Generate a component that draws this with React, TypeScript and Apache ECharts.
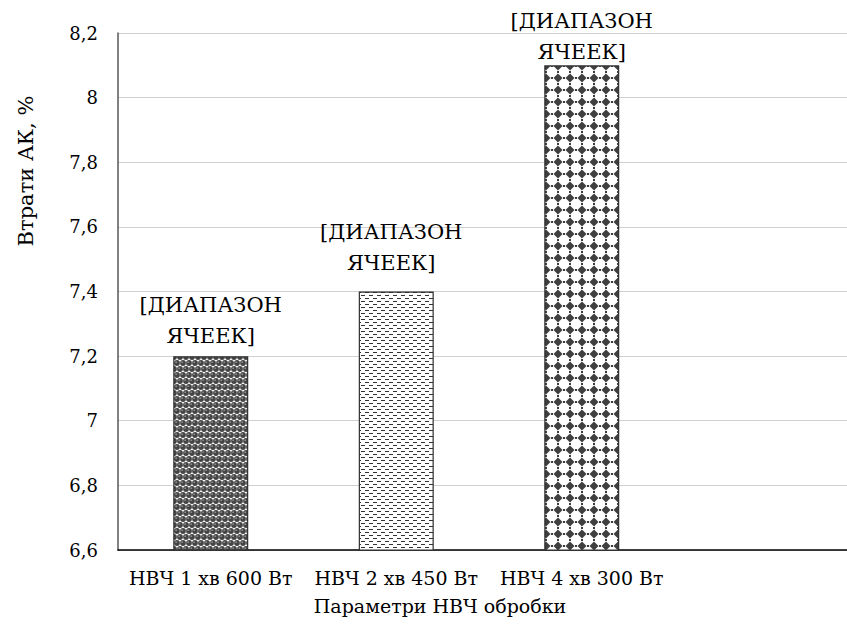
import React, { useEffect, useRef } from "react";
import * as echarts from "echarts";

const categories = ["НВЧ 1 хв 600 Вт", "НВЧ 2 хв 450 Вт", "НВЧ 4 хв 300 Вт"];
const values = [7.2, 7.4, 8.1];
const positions = [0.5, 1.5, 2.5];
const barLabel = "[ДИАПАЗОН\nЯЧЕЕК]";
const yTitle = "Втрати АК, %";
const xTitle = "Параметри НВЧ обробки";

const FONT = "DejaVu Serif";
const labelOffsets = [[0, -5], [-5, -13], [0, 2]];

function makeTile(w: number, h: number, draw: (c: CanvasRenderingContext2D) => void) {
  const cv = document.createElement("canvas");
  cv.width = w;
  cv.height = h;
  const ctx = cv.getContext("2d")!;
  ctx.fillStyle = "#ffffff";
  ctx.fillRect(0, 0, w, h);
  draw(ctx);
  return { image: cv.toDataURL(), imageWidth: w, imageHeight: h, repeat: "repeat" };
}

function spherePattern() {
  return makeTile(12, 12, (c) => {
    const pts = [
      [3, 3], [9, 3], [0, 9], [6, 9], [12, 9],
    ];
    for (const [x, y] of pts) {
      c.fillStyle = "#454545";
      c.beginPath();
      c.arc(x, y, 2.9, 0, Math.PI * 2);
      c.fill();
      c.fillStyle = "#8f8f8f";
      c.beginPath();
      c.arc(x - 0.8, y - 0.8, 0.9, 0, Math.PI * 2);
      c.fill();
    }
  });
}

function dashPattern() {
  return makeTile(8, 6, (c) => {
    c.fillStyle = "#333333";
    c.fillRect(1, 1, 4, 1);
    c.fillRect(5, 4, 3, 1);
    c.fillRect(0, 4, 1, 1);
  });
}

function diamondPattern() {
  return makeTile(12, 12, (c) => {
    c.fillStyle = "#3f3f3f";
    c.beginPath();
    c.moveTo(6, 1.5);
    c.lineTo(10.5, 6);
    c.lineTo(6, 10.5);
    c.lineTo(1.5, 6);
    c.closePath();
    c.fill();
    c.fillRect(0, 5, 1, 2);
    c.fillRect(11, 5, 1, 2);
    c.fillRect(5, 0, 2, 1);
    c.fillRect(5, 11, 2, 1);
  });
}

export default function App() {
  const ref = useRef<HTMLDivElement>(null);
  useEffect(() => {
    document.body.style.margin = "0";
    const chart = echarts.init(ref.current!, null, { renderer: "svg" });
    const patterns = [spherePattern(), dashPattern(), diamondPattern()];
    const gridLeft = 118;
    const gridRight = 0;
    const catWidth = 185.5;
    const xMax = (847 - gridLeft - gridRight) / catWidth;
    chart.setOption({
      animation: false,
      backgroundColor: "#ffffff",
      grid: { left: gridLeft, right: gridRight, top: 33, bottom: 75, containLabel: false },
      xAxis: {
        type: "value",
        min: 0,
        max: xMax,
        interval: 0.5,
        splitLine: { show: false },
        axisTick: { show: false },
        axisLine: { show: true, lineStyle: { color: "#000000", width: 1.5 } },
        axisLabel: {
          showMinLabel: true,
          showMaxLabel: false,
          margin: 18,
          fontFamily: FONT,
          fontSize: 19,
          color: "#000000",
          formatter: (v: number) => {
            const i = positions.findIndex((p) => Math.abs(p - v) < 1e-6);
            return i >= 0 ? categories[i] : "";
          },
        },
      },
      yAxis: {
        type: "value",
        min: 6.6,
        max: 8.2,
        interval: 0.2,
        axisLine: { show: true, lineStyle: { color: "#595959", width: 1.5 } },
        axisTick: { show: false },
        splitLine: { show: true, lineStyle: { color: "#d0d0d0", width: 1.2 } },
        axisLabel: {
          margin: 20,
          fontFamily: FONT,
          fontSize: 18,
          color: "#000000",
          formatter: (v: number) => String(Math.round(v * 10) / 10).replace(".", ","),
        },
      },
      graphic: [
        {
          type: "text",
          x: 26,
          y: 171,
          rotation: Math.PI / 2,
          style: {
            text: yTitle,
            font: `21px ${FONT}`,
            fill: "#000000",
            align: "center",
            verticalAlign: "middle",
          },
        },
        {
          type: "text",
          x: 440,
          y: 606,
          style: {
            text: xTitle,
            font: `19px ${FONT}`,
            fill: "#000000",
            align: "center",
            verticalAlign: "middle",
          },
        },
      ],
      series: [
        {
          type: "bar",
          barWidth: 75,
          data: values.map((v, i) => ({
            value: [positions[i], v],
            itemStyle: {
              color: patterns[i],
              borderColor: "#303030",
              borderWidth: 1.2,
            },
            label: { offset: labelOffsets[i] },
          })),
          label: {
            show: true,
            position: "top",
            distance: 0,
            formatter: barLabel,
            fontFamily: FONT,
            fontSize: 21,
            lineHeight: 31,
            color: "#000000",
            align: "center",
          },
        },
      ],
    });
    return () => chart.dispose();
  }, []);
  return <div ref={ref} style={{ width: 847, height: 625 }} />;
}
